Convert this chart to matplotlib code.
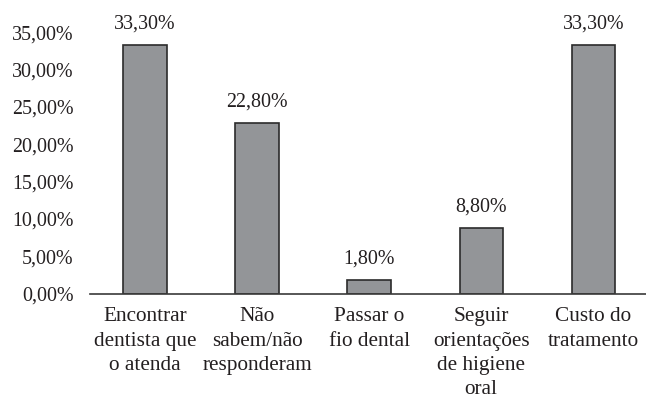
import numpy as np
import matplotlib.pyplot as plt
from matplotlib.ticker import FuncFormatter

categories = ['Encontrar\ndentista que\no atenda', 'Não\nsabem/não\nresponderam',
              'Passar o\nfio dental', 'Seguir\norientações\nde higiene\noral',
              'Custo do\ntratamento']
values = [33.3, 22.8, 1.8, 8.8, 33.3]
yticks = [0, 5, 10, 15, 20, 25, 30, 35]

plt.rcParams['font.family'] = ['Liberation Serif', 'DejaVu Serif']

fig = plt.figure(figsize=(6.46, 4.0), dpi=100)
ax = fig.add_axes([90 / 646, 0.266, 1 - 90 / 646, 0.653])

x = np.arange(len(values))
ax.bar(x, values, width=0.387, color='#939598', edgecolor='#2b2b2b', linewidth=1.2)

for xi, v in zip(x, values):
    ax.annotate(f'{v:.2f}%'.replace('.', ','), (xi, v), xytext=(0, 12),
                textcoords='offset points', ha='center', va='baseline',
                fontsize=14.4, color='#231f20')

ax.set_xlim(-0.49, 4.47)
ax.set_ylim(0, 35)
ax.set_yticks(yticks)
ax.yaxis.set_major_formatter(FuncFormatter(lambda v, p: f'{v:.2f}%'.replace('.', ',')))
ax.set_xticks(x)
ax.set_xticklabels(categories, fontsize=15.3, linespacing=1.36, color='#231f20')
ax.tick_params(axis='y', length=0, pad=12, labelsize=14.4, labelcolor='#231f20')
ax.tick_params(axis='x', length=0, pad=10)

for s in ['top', 'right', 'left']:
    ax.spines[s].set_visible(False)
ax.spines['bottom'].set_color('#3a3a3a')
ax.spines['bottom'].set_linewidth(1.2)

fig.savefig('out.png', dpi=100)
